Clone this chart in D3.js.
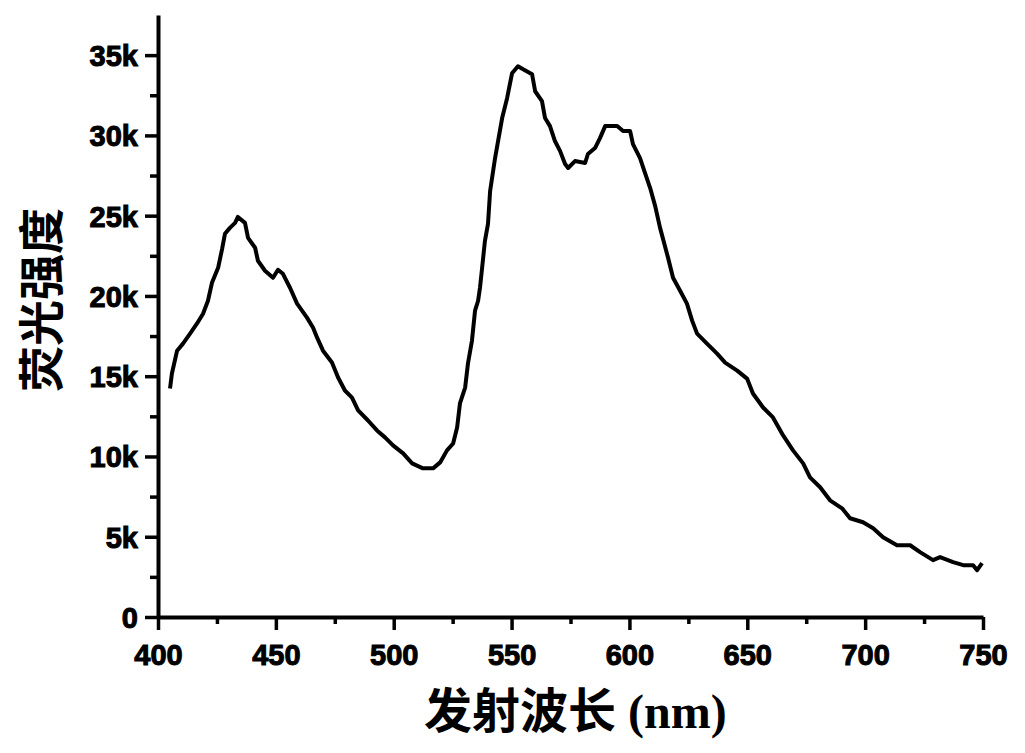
<!DOCTYPE html>
<html>
<head>
<meta charset="utf-8">
<script src="https://cdn.jsdelivr.net/npm/d3@7"></script>
<style>
  body { margin: 0; background: #fff; }
  .tick text { font-family: "Liberation Sans", Arial, sans-serif; font-weight: 700; font-size: 29px; fill: #000; stroke: #000; stroke-width: 1px; }
</style>
</head>
<body>
<script>
// emission spectrum
var wavelength = [405.1, 405.9, 408.1, 410.6, 413.6, 416.5, 419.1, 421.2, 422.9, 425.5, 427.2, 428.4, 430.5, 432.7, 433.9,
  436.9, 438.2, 441.2, 442.4, 445.4, 448.8, 450.9, 453.0, 456.0, 459.0, 463.2, 465.8, 467.5, 470.0, 473.8, 476.4, 479.3,
  482.3, 484.9, 489.1, 492.9, 496.3, 499.7, 504.0, 507.8, 512.4, 516.7, 519.7, 522.6, 525.2, 526.9, 528.1, 530.3, 531.5,
  533.2, 534.5, 535.8, 536.6, 537.5, 538.7, 540.0, 540.9, 543.0, 546.0, 548.1, 550.2, 552.7, 554.9, 558.7, 560.0, 562.9,
  564.2, 566.3, 568.4, 570.6, 572.7, 574.0, 576.9, 581.2, 582.4, 585.4, 587.5, 589.7, 594.8, 597.3, 600.3, 601.5, 604.5,
  606.6, 608.8, 610.9, 613.0, 616.4, 618.5, 621.5, 624.4, 626.6, 628.7, 632.9, 637.2, 640.6, 645.7, 649.9, 652.4, 656.7,
  660.9, 665.2, 669.4, 673.7, 676.6, 680.9, 685.1, 690.2, 693.6, 699.1, 703.4, 707.6, 713.5, 719.1, 723.3, 728.8, 731.8,
  737.3, 741.6, 745.8, 747.5, 749.6];
var intensity = [14230, 15170, 16590, 17030, 17650, 18270, 18890, 19700, 20820, 21750, 22930, 23870, 24240, 24550, 24920,
  24550, 23620, 23000, 22190, 21570, 21130, 21630, 21380, 20510, 19520, 18650, 18020, 17400, 16590, 15850, 14920, 14110,
  13670, 12870, 12240, 11620, 11190, 10690, 10190, 9570, 9260, 9260, 9630, 10380, 10810, 11810, 13300, 14290, 15790,
  17220, 19080, 19700, 20510, 21750, 23430, 24490, 26540, 28590, 31080, 32320, 33870, 34310, 34120, 33810, 32750, 32130,
  31080, 30580, 29650, 29020, 28220, 27970, 28400, 28280, 28840, 29210, 29830, 30580, 30580, 30270, 30270, 29460, 28590,
  27660, 26720, 25610, 24240, 22370, 21130, 20320, 19520, 18460, 17650, 17030, 16410, 15850, 15350, 14850, 13920, 13050,
  12430, 11310, 10380, 9570, 8700, 8080, 7270, 6770, 6150, 5900, 5530, 4970, 4470, 4470, 4040, 3540, 3730,
  3420, 3230, 3230, 2920, 3360];

var xTicks = [400, 450, 500, 550, 600, 650, 700, 750];
var yTicks = [0, 5000, 10000, 15000, 20000, 25000, 30000, 35000];
var xLabel = "发射波长";
var xUnit = " (nm)";
var yLabel = "荧光强度";

var width = 1025,
    height = 753;

var svg = d3.select("body").append("svg").attr("width", width).attr("height", height);

var x = d3.scaleLinear().domain([400, 750]).range([158, 983]);
var y = d3.scaleLinear().domain([0, 37500]).range([617, 15]);

var data = wavelength.map(function(w, i){ return { w: w, v: intensity[i] }; });

// minor ticks first (short), then major axes on top
svg.append("g")
    .attr("transform", "translate(0,617)")
    .call(d3.axisBottom(x).tickValues(d3.range(425, 750, 50)).tickSize(7).tickFormat(""))
    .call(function(g){ g.select(".domain").remove(); g.selectAll("line").attr("stroke-width", 3.5); });

svg.append("g")
    .attr("transform", "translate(158,0)")
    .call(d3.axisLeft(y).tickValues(d3.range(2500, 37500, 5000)).tickSize(8).tickFormat(""))
    .call(function(g){ g.select(".domain").remove(); g.selectAll("line").attr("stroke-width", 3.5); });

var xAxis = svg.append("g")
    .attr("transform", "translate(0,617)")
    .call(d3.axisBottom(x).tickValues(xTicks).tickSize(13).tickSizeOuter(0).tickPadding(7).tickFormat(d3.format("d")));

var yAxis = svg.append("g")
    .attr("transform", "translate(158,0)")
    .call(d3.axisLeft(y).tickValues(yTicks).tickSize(13).tickSizeOuter(0).tickPadding(7)
      .tickFormat(function(d){ return d === 0 ? "0" : (d / 1000) + "k"; }));

[xAxis, yAxis].forEach(function(g){
  g.select(".domain").attr("stroke-width", 4);
  g.selectAll(".tick line").attr("stroke-width", 3.5);
});
xAxis.selectAll(".tick text").attr("dy", "0.95em");
yAxis.selectAll(".tick text").attr("dy", "0.36em");

// curve
var line = d3.line()
    .x(function(d){ return x(d.w); })
    .y(function(d){ return y(d.v); });

svg.append("path")
    .datum(data)
    .attr("fill", "none")
    .attr("stroke", "#000")
    .attr("stroke-width", 4)
    .attr("stroke-linejoin", "round")
    .attr("d", line);

// axis titles
var xt = svg.append("text")
    .attr("x", 424)
    .attr("y", 728)
    .attr("fill", "#000");
xt.append("tspan")
    .attr("font-family", "'Noto Sans CJK SC', sans-serif")
    .attr("font-weight", 700)
    .attr("font-size", "48px")
    .text(xLabel);
xt.append("tspan")
    .attr("font-family", "'Liberation Serif', serif")
    .attr("font-weight", 700)
    .attr("font-size", "48px")
    .text(xUnit);

svg.append("text")
    .attr("transform", "translate(38,300) rotate(-90)")
    .attr("text-anchor", "middle")
    .attr("dominant-baseline", "central")
    .attr("font-family", "'Noto Sans CJK SC', sans-serif")
    .attr("font-weight", 700)
    .attr("font-size", "46px")
    .attr("fill", "#000")
    .text(yLabel);
</script>
</body>
</html>
